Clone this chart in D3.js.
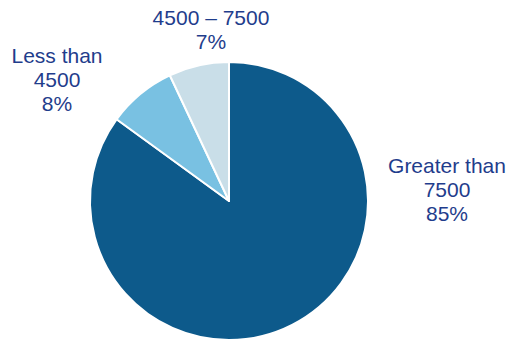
<!DOCTYPE html>
<html>
<head>
<meta charset="utf-8">
<script src="https://cdn.jsdelivr.net/npm/d3@7"></script>
<style>
  html, body { margin: 0; padding: 0; background: #fff; }
  text { font-family: "Liberation Sans", Arial, sans-serif; }
</style>
</head>
<body>
<div id="chart"></div>
<script>
const categories = ['Greater than 7500', 'Less than 4500', '4500 – 7500'];
const values = [85, 8, 7];
const labelLines = [
  ['Greater than', '7500', '85%'],
  ['Less than', '4500', '8%'],
  ['4500 – 7500', '7%']
];
const sliceColors = ['#0d5a8b', '#79c1e2', '#c9dee8'];

const width = 510, height = 346;
const cx = 229, cy = 201, radius = 139;

const svg = d3.select('#chart')
  .append('svg')
  .attr('width', width)
  .attr('height', height);

const data = categories.map((c, i) => ({ name: c, value: values[i], lines: labelLines[i] }));

const pie = d3.pie()
  .value(d => d.value)
  .sort(null);

const arc = d3.arc()
  .innerRadius(0)
  .outerRadius(radius);

const arcs = pie(data);

const g = svg.append('g')
  .attr('transform', `translate(${cx},${cy})`);

g.selectAll('path')
  .data(arcs)
  .enter()
  .append('path')
  .attr('d', arc)
  .attr('fill', (d, i) => sliceColors[i])
  .attr('stroke', '#fff')
  .attr('stroke-width', 2)
  .attr('stroke-linejoin', 'round');

// label anchor offsets relative to pie centre (first baseline)
const labelPos = [
  { x: 218, y: -28 },
  { x: -172, y: -138 },
  { x: -18, y: -176 }
];

const labels = g.selectAll('.label')
  .data(arcs)
  .enter()
  .append('text')
  .attr('class', 'label')
  .attr('text-anchor', 'middle')
  .attr('fill', '#1f3d8c')
  .attr('font-size', '21px')
  .attr('transform', (d, i) => `translate(${labelPos[i].x},${labelPos[i].y})`);

labels.selectAll('tspan')
  .data(d => d.data.lines)
  .enter()
  .append('tspan')
  .attr('x', 0)
  .attr('dy', (d, i) => i === 0 ? 0 : 24)
  .text(d => d);
</script>
</body>
</html>
